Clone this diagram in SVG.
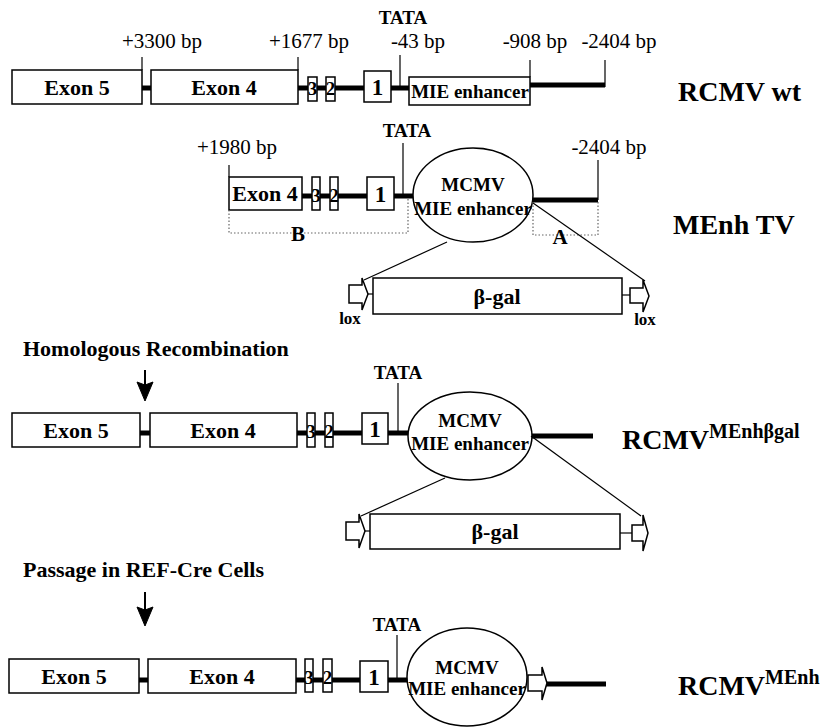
<svg xmlns="http://www.w3.org/2000/svg" width="822" height="728" viewBox="0 0 822 728">
<style>
text{font-family:"Liberation Serif","Times New Roman",serif;fill:#000}
.r{font-size:21px}
.b{font-weight:bold}
.c{text-anchor:middle}
.box{fill:#fff;stroke:#000;stroke-width:1.5}
.bb{stroke:#000;stroke-width:5;fill:none}
.tk{stroke:#000;stroke-width:1.2;fill:none}
.ar{stroke:#000;stroke-width:2;fill:none}
.dot{stroke:#666;stroke-width:1.2;stroke-dasharray:1.5 2;fill:none}
.ex{font-size:22px;font-weight:bold;text-anchor:middle}
.sm{font-size:19px;font-weight:bold;text-anchor:middle}
.one{font-size:23px;font-weight:bold;text-anchor:middle}
.tata{font-size:19px;font-weight:bold;text-anchor:middle}
.big{font-size:28px;font-weight:bold}
.sup{font-size:20px}
</style>
<defs>
<path id="arrowhead" d="M-8,-19 L0,0 L8,-19 L0,-16 Z" fill="#000" stroke="#000" stroke-width="1" stroke-linejoin="miter"/>
</defs>

<!-- Row 1: RCMV wt -->
<g id="row1">
  <g id="r1-backbone">
    <line class="bb" x1="142" y1="88" x2="151" y2="88"/>
    <line class="bb" x1="298" y1="88" x2="410" y2="88"/>
    <line class="bb" x1="530" y1="85" x2="605" y2="85"/>
  </g>
  <g id="r1-ticks">
    <line class="tk" x1="142" y1="57" x2="142" y2="70"/>
    <line class="tk" x1="298" y1="57" x2="298" y2="70"/>
    <line class="tk" x1="400" y1="55" x2="400" y2="88"/>
    <line class="tk" x1="530" y1="60" x2="530" y2="77"/>
    <line class="tk" x1="605" y1="60" x2="605" y2="87"/>
  </g>
  <g id="r1-labels">
    <text class="r c" x="162" y="48">+3300 bp</text>
    <text class="r c" x="309" y="48">+1677 bp</text>
    <text class="tata" x="403" y="24">TATA</text>
    <text class="r c" x="418" y="48">-43 bp</text>
    <text class="r c" x="535" y="48">-908 bp</text>
    <text class="r c" x="619" y="48">-2404 bp</text>
  </g>
  <g id="r1-exon5"><rect class="box" x="12" y="70" width="130" height="34"/><text class="ex" x="77" y="95">Exon 5</text></g>
  <g id="r1-exon4"><rect class="box" x="151" y="70" width="147" height="34"/><text class="ex" x="224" y="95">Exon 4</text></g>
  <g id="r1-exon3"><rect class="box" x="308" y="77" width="9" height="24"/><text class="sm" x="312.5" y="95">3</text></g>
  <g id="r1-exon2"><rect class="box" x="326" y="77" width="9" height="24"/><text class="sm" x="330.5" y="95">2</text></g>
  <g id="r1-exon1"><rect class="box" x="364" y="71" width="27" height="31"/><text class="one" x="377.5" y="95">1</text></g>
  <g id="r1-mie"><rect class="box" x="409" y="77" width="121" height="28"/><text class="sm" x="470" y="98">MIE enhancer</text></g>
  <text id="r1-title" class="big" x="678" y="101">RCMV wt</text>
</g>

<!-- Row 2: MEnh TV -->
<g id="row2">
  <g id="r2-backbone">
    <line class="bb" x1="302" y1="196" x2="414" y2="196"/>
    <line class="bb" x1="533" y1="200" x2="598" y2="200"/>
  </g>
  <g id="r2-ticks">
    <line class="tk" x1="229" y1="165" x2="229" y2="177"/>
    <line class="tk" x1="403" y1="143" x2="403" y2="196"/>
    <line class="tk" x1="598" y1="160" x2="598" y2="200"/>
  </g>
  <g id="r2-labels">
    <text class="r c" x="237" y="154">+1980 bp</text>
    <text class="tata" x="407" y="137">TATA</text>
    <text class="r c" x="609" y="154">-2404 bp</text>
  </g>
  <g id="r2-exon4"><rect class="box" x="229" y="177" width="73" height="33"/><text class="ex" x="265" y="201">Exon 4</text></g>
  <g id="r2-exon3"><rect class="box" x="312" y="177" width="8" height="33"/><text class="sm" x="316" y="202">3</text></g>
  <g id="r2-exon2"><rect class="box" x="330" y="177" width="8" height="33"/><text class="sm" x="334" y="202">2</text></g>
  <g id="r2-exon1"><rect class="box" x="367" y="177" width="27" height="33"/><text class="one" x="380.5" y="202">1</text></g>
  <g id="r2-mcmv"><ellipse class="box" cx="473" cy="195" rx="60" ry="47"/><text class="sm" x="473" y="191">MCMV</text><text class="sm" x="473" y="215">MIE enhancer</text></g>
  <g id="r2-armB"><path class="dot" d="M229,210 V233 H408 V199"/><text class="ex" x="298" y="241" style="font-size:21px">B</text></g>
  <g id="r2-armA"><path class="dot" d="M533,202 V235 H598 V202"/><text class="ex" x="560" y="244" style="font-size:21px">A</text></g>
  <g id="r2-bgal"><rect class="box" x="373" y="278" width="249" height="36"/><text class="ex" x="497" y="304">β-gal</text></g>
  <g id="r2-loxL"><path class="box" d="M349,285 H362 V278 L368,294 L362,310 V303 H349 Z"/><line class="tk" x1="368" y1="294" x2="373" y2="294"/><text class="sm" x="350" y="324" style="font-size:17px">lox</text></g>
  <g id="r2-loxR"><line class="tk" x1="622" y1="295" x2="630" y2="295"/><path class="box" d="M630,288 H643 V280 L649,296 L643,312 V303 H630 Z"/><text class="sm" x="645" y="325" style="font-size:17px">lox</text></g>
  <text id="r2-title" class="big" x="673" y="234">MEnh TV</text>
</g>

<!-- Row 3: RCMV MEnh beta-gal -->
<g id="row3">
  <text id="r3-step" class="b" x="23" y="356" style="font-size:22px">Homologous Recombination</text>
  <g id="r3-backbone">
    <line class="bb" x1="140" y1="433" x2="150" y2="433"/>
    <line class="bb" x1="297" y1="433" x2="409" y2="433"/>
    <line class="bb" x1="531" y1="436" x2="593" y2="436"/>
  </g>
  <line class="tk" x1="398" y1="383" x2="398" y2="433"/>
  <text class="tata" x="398" y="379">TATA</text>
  <g id="r3-exon5"><rect class="box" x="12" y="413" width="128" height="34"/><text class="ex" x="76" y="438">Exon 5</text></g>
  <g id="r3-exon4"><rect class="box" x="150" y="413" width="147" height="34"/><text class="ex" x="223" y="438">Exon 4</text></g>
  <g id="r3-exon3"><rect class="box" x="307" y="413" width="8" height="34"/><text class="sm" x="311" y="438">3</text></g>
  <g id="r3-exon2"><rect class="box" x="325" y="413" width="8" height="34"/><text class="sm" x="329" y="438">2</text></g>
  <g id="r3-exon1"><rect class="box" x="362" y="413" width="26" height="31"/><text class="one" x="375" y="437">1</text></g>
  <g id="r3-mcmv"><ellipse class="box" cx="470" cy="436" rx="62" ry="44"/><text class="sm" x="470" y="427">MCMV</text><text class="sm" x="470" y="450">MIE enhancer</text></g>
  <g id="r3-bgal"><rect class="box" x="370" y="514" width="250" height="35"/><text class="ex" x="495" y="539">β-gal</text></g>
  <g id="r3-loxL"><path class="box" d="M346,522 H359 V514 L365,531 L359,548 V540 H346 Z"/><line class="tk" x1="365" y1="531" x2="370" y2="531"/></g>
  <g id="r3-loxR"><line class="tk" x1="620" y1="533" x2="632" y2="533"/><path class="box" d="M632,525 H643 V515 L648,533 L643,551 V541 H632 Z"/></g>
  <text id="r3-title" class="big" x="622" y="449">RCMV<tspan class="sup" dy="-11">MEnhβgal</tspan></text>
</g>

<!-- Row 4: RCMV MEnh -->
<g id="row4">
  <text id="r4-step" class="b" x="23" y="577" style="font-size:22px">Passage in REF-Cre Cells</text>
  <g id="r4-backbone">
    <line class="bb" x1="139" y1="680" x2="148" y2="680"/>
    <line class="bb" x1="296" y1="680" x2="408" y2="680"/>
    <line class="bb" x1="546" y1="684" x2="606" y2="684"/>
  </g>
  <line class="tk" x1="397" y1="635" x2="397" y2="680"/>
  <text class="tata" x="397" y="631">TATA</text>
  <g id="r4-exon5"><rect class="box" x="9" y="659" width="130" height="34"/><text class="ex" x="74" y="684">Exon 5</text></g>
  <g id="r4-exon4"><rect class="box" x="148" y="659" width="148" height="34"/><text class="ex" x="222" y="684">Exon 4</text></g>
  <g id="r4-exon3"><rect class="box" x="305" y="659" width="8" height="33"/><text class="sm" x="309" y="684">3</text></g>
  <g id="r4-exon2"><rect class="box" x="323" y="659" width="9" height="33"/><text class="sm" x="327.5" y="684">2</text></g>
  <g id="r4-exon1"><rect class="box" x="360" y="661" width="28" height="31"/><text class="one" x="374" y="685">1</text></g>
  <g id="r4-mcmv"><ellipse class="box" cx="467" cy="677" rx="60" ry="49"/><text class="sm" x="467" y="674">MCMV</text><text class="sm" x="467" y="695">MIE enhancer</text></g>
  <g id="r4-lox"><path class="box" d="M528,675 H542 V667 L547,683 L542,700 V691 H528 Z"/></g>
  <text id="r4-title" class="big" x="678" y="695">RCMV<tspan class="sup" dy="-11">MEnh</tspan></text>
</g>

<!-- Connectors -->
<g id="connectors">
  <line class="tk" x1="447" y1="242" x2="364" y2="280"/>
  <line class="tk" x1="533" y1="203" x2="645" y2="281"/>
  <line class="tk" x1="445" y1="478" x2="361" y2="516"/>
  <line class="tk" x1="531" y1="436" x2="641" y2="516"/>
  <line class="ar" x1="145" y1="370" x2="145" y2="388"/>
  <use href="#arrowhead" x="145" y="401"/>
  <line class="ar" x1="145" y1="592" x2="145" y2="612"/>
  <use href="#arrowhead" x="145" y="626"/>
</g>
</svg>
